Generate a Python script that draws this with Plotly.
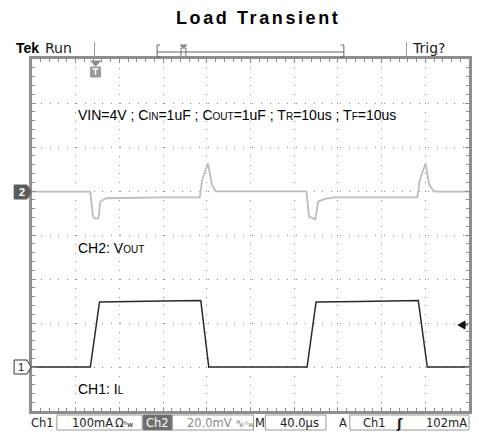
import plotly.graph_objects as go

# ---------------- data ----------------
# time axis: 40 us / div, 10 divisions
time_per_div_us = 40
# CH1: load current IL (mA), 100 mA/div, ground marker at division 1
ch1_time_us = [0, 53.4, 61.8, 80, 120, 154.5, 161.8, 251.8, 260, 300, 353.6, 361.8, 400]
ch1_ma      = [0, 0, 148, 149, 150, 151, 0, 0, 148, 149, 151, 0, 0]
ch1_scale_ma = 100
ch1_offset_div = 1
# CH2: output voltage VOUT (mV, AC), 20 mV/div, ground marker at division 5
ch2_time_us = [0, 53.4, 55.7, 57.3, 60.9, 62.5, 67.9, 90, 120, 153.6, 155.7, 161.0, 164.8, 167.9,
               251.2, 253.6, 259.4, 261.8, 268, 277, 320, 352.7, 355.0, 360.3, 363.5, 367.9, 400]
ch2_mv      = [-0.3, -0.3, -11.2, -12.4, -12.4, -4.8, -3.3, -3.0, -2.9, -2.9, 5.0, 12.6, 2.7, -0.2,
               -0.2, -11.6, -12.9, -4.8, -3.6, -2.9, -2.9, -2.9, 5.0, 12.6, 3.0, -0.3, -0.3]
ch2_scale_mv = 20
ch2_offset_div = 5

ch1_div = [ch1_offset_div + v / ch1_scale_ma for v in ch1_ma]
ch2_div = [ch2_offset_div + v / ch2_scale_mv for v in ch2_mv]

W, H = 479, 436
L, R, T, B = 32, 472, 59, 411
FONT = "Liberation Sans, Arial, sans-serif"
SCOPE = "DejaVu Sans, Verdana, sans-serif"


def px(x):
    return (x - L) / (R - L)


def py(y):
    return (B - y) / (B - T)


fig = go.Figure()
fig.add_trace(go.Scatter(x=ch2_time_us, y=ch2_div, mode="lines",
                         line=dict(color="#bdbdbd", width=1.8), hoverinfo="skip"))
fig.add_trace(go.Scatter(x=ch1_time_us, y=ch1_div, mode="lines",
                         line=dict(color="#2a2a2a", width=1.5), hoverinfo="skip"))

axis_common = dict(showgrid=True, gridcolor="#8a8a8a", gridwidth=1, griddash="1px,7.8px",
                   showline=True, linecolor="#8e8e8e", linewidth=2.5, mirror="allticks",
                   ticks="inside", ticklen=4, tickcolor="#8e8e8e", tickwidth=1,
                   showticklabels=False, zeroline=False, fixedrange=True)
fig.update_xaxes(range=[0, 10 * time_per_div_us], dtick=time_per_div_us,
                 minor=dict(dtick=time_per_div_us / 5, ticks="inside", ticklen=3,
                            tickcolor="#8e8e8e", showgrid=False), **axis_common)
fig.update_yaxes(range=[0, 8], dtick=1,
                 minor=dict(dtick=0.2, ticks="inside", ticklen=3,
                            tickcolor="#8e8e8e", showgrid=False), **axis_common)

ann = []


def text(x, y, s, size=13, color="#000", anchor="left", bold=False, family=FONT):
    if bold:
        s = "<b>" + s + "</b>"
    ann.append(dict(x=px(x), y=py(y), xref="paper", yref="paper", text=s, showarrow=False,
                    xanchor=anchor, yanchor="middle",
                    font=dict(family=family, size=size, color=color)))


def sm(s, size=10):
    return f"<span style='font-size:{size}px'>{s}</span>"


# title
text(260, 18, "<span style='letter-spacing:2.6px'>Load Transient</span>", size=18,
     anchor="center", bold=True)
# header
text(14, 48, "Tek", size=14, bold=True)
text(43, 48, "Run", size=14, family=SCOPE, color="#222")
text(413, 48, "Trig?", size=14, family=SCOPE, color="#222")
# labels in the graticule
text(76, 115, "VIN=4V ; C" + sm("IN") + "=1uF ; C" + sm("OUT") + "=1uF ; T" + sm("R")
     + "=10us ; T" + sm("F") + "=10us", size=14)
text(76, 248, "CH2: V" + sm("OUT"), size=14)
text(76, 389, "CH1: I" + sm("L"), size=14)
# channel markers
text(22, 192, "2", size=11, color="white", anchor="center", bold=True)
text(21, 367, "1", size=11, color="#111", anchor="center")
# status line
sy = 423


def st(x, s, color="#222", size=11.5, bold=False):
    text(x, sy, s, size=size, color=color, anchor="center", family=SCOPE, bold=bold)


st(42.5, "Ch1")
st(93, "100mA")
st(125, "Ω" + sm("ᴮw", 7.5))
st(158.5, "Ch2", color="white")
st(211, "20.0mV", color="#8a8a8a")
st(245.5, "∿" + sm("ᴮw", 7.5), color="#8a8a8a")
st(262, "M")
st(301, "40.0µs")
st(345, "A")
st(377, "Ch1")
st(402.5, "ʃ", size=13, bold=True)
st(449.5, "102mA")


shapes = []


def line(x0, y0, x1, y1, color="#999", width=1):
    shapes.append(dict(type="line", xref="paper", yref="paper", x0=px(x0), y0=py(y0),
                       x1=px(x1), y1=py(y1), line=dict(color=color, width=width)))


def rect(x0, y0, x1, y1, fill="rgba(0,0,0,0)", color="#999", width=1):
    shapes.append(dict(type="rect", xref="paper", yref="paper", x0=px(x0), y0=py(y0),
                       x1=px(x1), y1=py(y1), fillcolor=fill, line=dict(color=color, width=width),
                       layer="below"))


def poly(pts, fill, color, width=1):
    d = "M " + " L ".join(f"{px(a)},{py(b)}" for a, b in pts) + " Z"
    shapes.append(dict(type="path", xref="paper", yref="paper", path=d, fillcolor=fill,
                       line=dict(color=color, width=width)))


# header bar decorations
line(95, 42, 95, 58, "#999")
line(409, 42, 409, 58, "#999")
line(158, 52, 346, 52, "#666")
line(158, 45, 158, 57, "#666")
line(158, 45, 161, 45, "#666")
line(158, 57, 161, 57, "#666")
line(346, 45, 346, 57, "#666")
line(343, 45, 346, 45, "#666")
line(343, 57, 346, 57, "#666")
rect(182, 48, 187, 57, fill="white", color="#777")
poly([(181, 45), (188, 45), (184.5, 48)], "#888", "#888")
# trigger position marker under the top border
poly([(91, 61), (101, 61), (96, 66)], "#8a8a8a", "#8a8a8a")
rect(91, 67, 101, 77, fill="#9a9a9a", color="#9a9a9a")
line(93, 69, 99, 69, "white", 1.5)
line(96, 69, 96, 75, "white", 1.5)
# channel ground markers
poly([(14, 185), (27, 185), (31, 192), (27, 199), (14, 199)], "#5a5a5a", "#5a5a5a")
poly([(14, 360), (27, 360), (31, 367), (27, 374), (14, 374)], "white", "#333")
# trigger level arrow
poly([(461, 325), (468, 321), (468, 329)], "#111", "#111")
line(466, 325, 471, 325, "#111", 1)
# status boxes
rect(57, 415, 143, 430)
rect(144, 415, 173, 430, fill="#6e6e6e", color="#6e6e6e")
rect(173, 415, 255, 430)
rect(267, 415, 328, 430)
rect(352, 415, 472, 430)

fig.update_layout(width=W, height=H, margin=dict(l=L, r=W - R, t=T, b=H - B),
                  paper_bgcolor="white", plot_bgcolor="white", showlegend=False,
                  annotations=ann, shapes=shapes)
fig.write_html("out.html", config={"displayModeBar": False},
               post_script="document.body.style.margin='0px';")
